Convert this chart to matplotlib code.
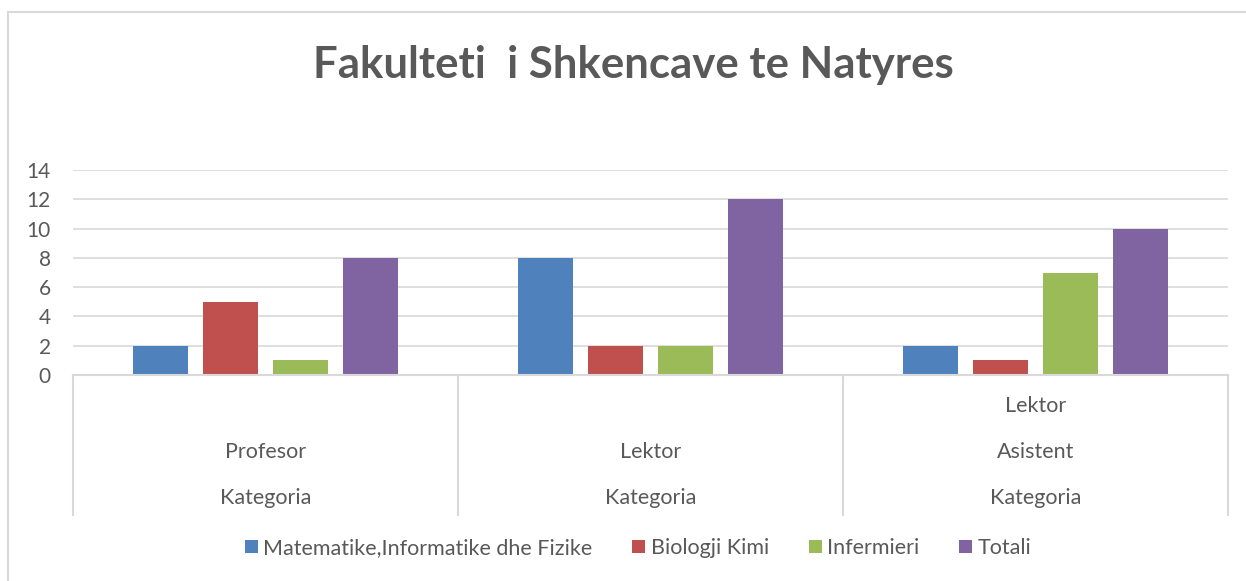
import matplotlib.pyplot as plt
from matplotlib.patches import Rectangle
import matplotlib.transforms as mtransforms

plt.rcParams['font.family'] = ['Lato', 'DejaVu Sans']

# data
groups = ['Profesor', 'Lektor', 'Asistent']
series = ['Matematike,Informatike dhe Fizike', 'Biologji Kimi', 'Infermieri', 'Totali']
values = {
    'Matematike,Informatike dhe Fizike': [2, 8, 2],
    'Biologji Kimi': [5, 2, 1],
    'Infermieri': [1, 2, 7],
    'Totali': [8, 12, 10],
}
colors = ['#4F81BD', '#C0504D', '#9BBB59', '#8064A2']
title = 'Fakulteti  i Shkencave te Natyres'

W, H = 1246, 581
fig = plt.figure(figsize=(W / 100, H / 100), dpi=100)
txt = '#595959'
grid = '#d9d9d9'

# chart border
fig.patches.append(Rectangle((8 / W, -0.1), 1.2, (H - 12) / H + 0.1, transform=fig.transFigure,
                             fill=False, edgecolor=grid, linewidth=1.5))

ax = fig.add_axes([73 / W, (H - 375) / H, 1155 / W, 205 / H])
step = 70 / 385
bw = 55 / 385
for i, s in enumerate(series):
    xs = [g + 0.5 + (i - 1.5) * step for g in range(len(groups))]
    ax.bar(xs, values[s], width=bw, color=colors[i], label=s, zorder=3)

ax.set_xlim(0, 3)
ax.set_ylim(0, 14)
ax.set_yticks(range(0, 15, 2))
ax.yaxis.grid(True, color=grid, linewidth=1.2, zorder=0)
for sp in ax.spines.values():
    sp.set_visible(False)
ax.tick_params(axis='y', length=0, labelsize=15, labelcolor=txt, pad=16)
ax.set_xticks([])

# multi-level category axis
ax.axhline(0, color=grid, linewidth=1.5, zorder=4, clip_on=False)
bottom = -140 / 205
for x in [0, 1, 2, 3]:
    ax.plot([x, x], [0, bottom * 14], color=grid, linewidth=1.5, clip_on=False)
trans = mtransforms.blended_transform_factory(ax.transData, ax.transAxes)
labels = [['Profesor'], ['Lektor'], ['Lektor', 'Asistent']]
for g, labs in enumerate(labels):
    ys = [-77 / 205] if len(labs) == 1 else [-31 / 205, -77 / 205]
    for lab, y in zip(labs, ys):
        ax.text(g + 0.5, y, lab, transform=trans, ha='center', va='center',
                fontsize=15.5, color=txt)
    ax.text(g + 0.5, -123 / 205, 'Kategoria', transform=trans, ha='center', va='center',
            fontsize=15.5, color=txt)

fig.text(633 / W, (H - 65) / H, title, ha='center', va='center', fontsize=31.5,
         fontweight='bold', color=txt)

leg = fig.legend(loc='center', bbox_to_anchor=(638 / W, (H - 548) / H), ncol=4,
                 frameon=False, fontsize=15.5, handlelength=0.6, handleheight=0.6,
                 handletextpad=0.25, columnspacing=1.85)
for t in leg.get_texts():
    t.set_color(txt)

fig.savefig('out.png', dpi=100)
